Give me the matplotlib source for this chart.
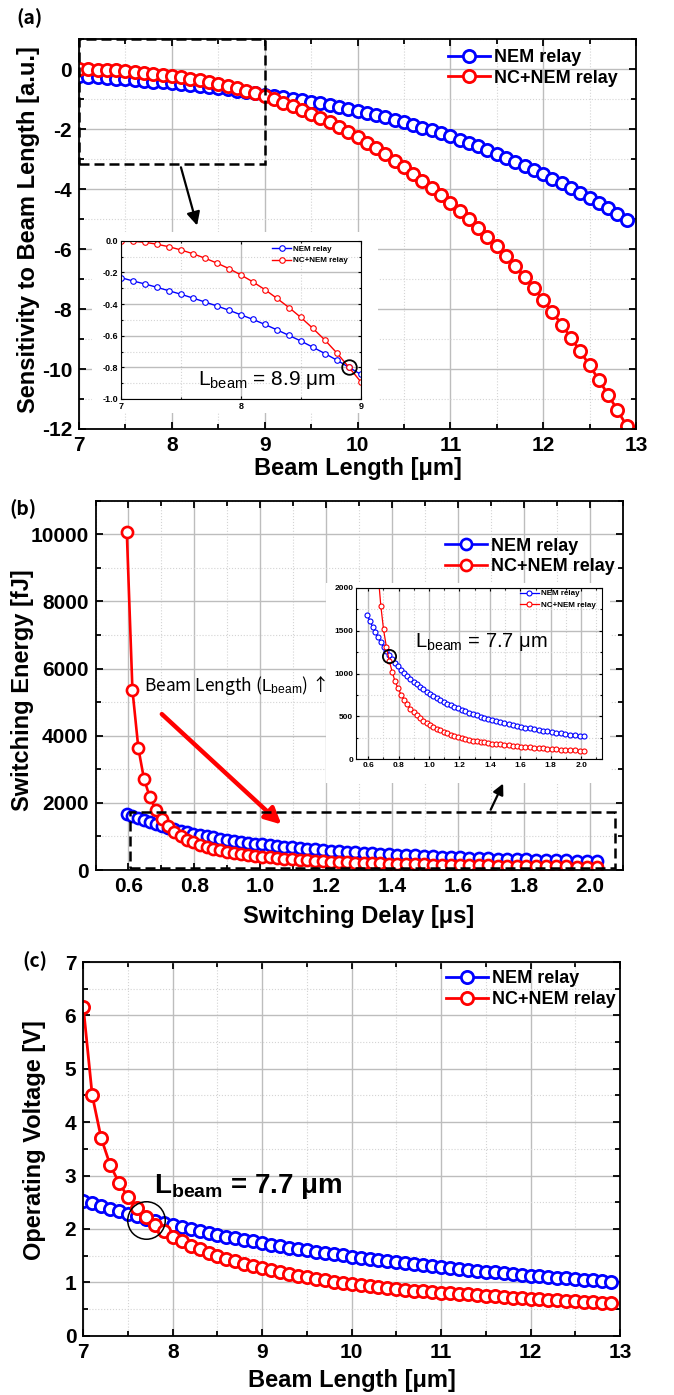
import matplotlib
matplotlib.use('Agg')
import matplotlib.pyplot as plt
from matplotlib.ticker import MultipleLocator, FormatStrFormatter
from matplotlib.patches import Rectangle

plt.rcParams['font.family'] = ['Liberation Sans', 'DejaVu Sans']
plt.rcParams['font.weight'] = 'bold'
plt.rcParams['axes.unicode_minus'] = False
plt.rcParams['mathtext.fontset'] = 'custom'
plt.rcParams['mathtext.rm'] = 'Liberation Sans:regular'
plt.rcParams['mathtext.it'] = 'Liberation Sans:regular'
plt.rcParams['mathtext.bf'] = 'Liberation Sans:bold'

# ---------------- data ----------------
beam_length = [7.0, 7.1, 7.2, 7.3, 7.4, 7.5, 7.6, 7.7, 7.8, 7.9,
               8.0, 8.1, 8.2, 8.3, 8.4, 8.5, 8.6, 8.7, 8.8, 8.9,
               9.0, 9.1, 9.2, 9.3, 9.4, 9.5, 9.6, 9.7, 9.8, 9.9,
               10.0, 10.1, 10.2, 10.3, 10.4, 10.5, 10.6, 10.7, 10.8, 10.9,
               11.0, 11.1, 11.2, 11.3, 11.4, 11.5, 11.6, 11.7, 11.8, 11.9,
               12.0, 12.1, 12.2, 12.3, 12.4, 12.5, 12.6, 12.7, 12.8, 12.9]

sens_nem = [-0.233, -0.254, -0.273, -0.294, -0.316, -0.338, -0.362, -0.387, -0.412, -0.439,
            -0.468, -0.497, -0.529, -0.563, -0.598, -0.634, -0.673, -0.713, -0.755, -0.800,
            -0.845, -0.890, -0.936, -0.983, -1.031, -1.080, -1.134, -1.190, -1.249, -1.312,
            -1.378, -1.449, -1.522, -1.599, -1.680, -1.764, -1.852, -1.943, -2.038, -2.137,
            -2.240, -2.347, -2.458, -2.573, -2.693, -2.817, -2.945, -3.077, -3.214, -3.355,
            -3.500, -3.650, -3.800, -3.960, -4.120, -4.290, -4.460, -4.640, -4.830, -5.020]

sens_nc = [-0.004, -0.004, -0.010, -0.022, -0.038, -0.058, -0.082, -0.110, -0.141, -0.176,
           -0.216, -0.260, -0.309, -0.364, -0.422, -0.485, -0.554, -0.628, -0.710, -0.800,
           -0.893, -1.000, -1.110, -1.230, -1.350, -1.480, -1.620, -1.770, -1.930, -2.090,
           -2.260, -2.450, -2.640, -2.840, -3.050, -3.270, -3.500, -3.730, -3.970, -4.210,
           -4.460, -4.730, -5.010, -5.290, -5.590, -5.900, -6.230, -6.570, -6.930, -7.300,
           -7.690, -8.100, -8.520, -8.960, -9.410, -9.880, -10.360, -10.860, -11.370, -11.900]

delay_us = [0.595, 0.612, 0.630, 0.647, 0.665, 0.683, 0.701, 0.720, 0.739, 0.758,
            0.777, 0.797, 0.816, 0.837, 0.857, 0.877, 0.898, 0.919, 0.940, 0.962,
            0.984, 1.006, 1.028, 1.050, 1.073, 1.096, 1.119, 1.143, 1.166, 1.190,
            1.214, 1.239, 1.263, 1.288, 1.313, 1.339, 1.364, 1.390, 1.416, 1.443,
            1.469, 1.496, 1.523, 1.551, 1.578, 1.606, 1.634, 1.662, 1.691, 1.720,
            1.749, 1.778, 1.807, 1.837, 1.867, 1.897, 1.928, 1.959, 1.990, 2.021]

energy_nem = [1677, 1608, 1541, 1479, 1420, 1363, 1310, 1260, 1212, 1166,
              1124, 1083, 1043, 1007, 971, 937, 904, 874, 844, 816,
              789, 763, 739, 715, 693, 671, 650, 630, 611, 593,
              575, 559, 542, 526, 511, 497, 483, 470, 457, 444,
              432, 421, 409, 399, 388, 378, 369, 359, 350, 341,
              333, 325, 317, 309, 302, 294, 288, 281, 274, 268]

energy_nc = [10056, 5366, 3628, 2714, 2168, 1791, 1514, 1306, 1146, 1018,
             907, 826, 755, 693, 639, 591, 550, 512, 479, 449,
             422, 398, 376, 355, 337, 319, 302, 287, 272, 259,
             247, 236, 227, 218, 210, 203, 196, 190, 184, 178,
             173, 168, 163, 158, 153, 148, 144, 140, 135, 131,
             128, 124, 120, 117, 114, 110, 107, 104, 101, 98]

volt_nem = [2.530, 2.477, 2.425, 2.376, 2.328, 2.281, 2.236, 2.193, 2.151, 2.110,
            2.071, 2.033, 1.995, 1.960, 1.925, 1.891, 1.858, 1.826, 1.795, 1.765,
            1.735, 1.707, 1.679, 1.652, 1.626, 1.600, 1.575, 1.551, 1.527, 1.504,
            1.482, 1.460, 1.438, 1.417, 1.397, 1.377, 1.358, 1.339, 1.320, 1.302,
            1.284, 1.267, 1.250, 1.234, 1.217, 1.201, 1.186, 1.171, 1.156, 1.141,
            1.127, 1.113, 1.100, 1.086, 1.073, 1.060, 1.048, 1.035, 1.023, 1.011]

volt_nc = [6.16, 4.50, 3.70, 3.20, 2.86, 2.60, 2.39, 2.22, 2.08, 1.96,
           1.850, 1.765, 1.688, 1.617, 1.553, 1.494, 1.440, 1.390, 1.344, 1.301,
           1.262, 1.226, 1.191, 1.158, 1.127, 1.097, 1.068, 1.040, 1.014, 0.989,
           0.965, 0.944, 0.925, 0.907, 0.891, 0.875, 0.860, 0.846, 0.833, 0.820,
           0.808, 0.796, 0.784, 0.772, 0.760, 0.748, 0.737, 0.726, 0.715, 0.704,
           0.694, 0.684, 0.674, 0.664, 0.655, 0.644, 0.634, 0.625, 0.616, 0.607]

series_names = ['NEM relay', 'NC+NEM relay']

# ---------------- styling helpers ----------------
BLUE = '#0000ff'
RED = '#ff0000'
W, H = 674.0, 1395.0
KR = ['Noto Sans CJK KR', 'DejaVu Sans']

fig = plt.figure(figsize=(6.74, 13.95), dpi=100)


def px_rect(l, t, r, b):
    return [l / W, 1 - b / H, (r - l) / W, (b - t) / H]


def style(ax, xmaj, xmin, ymaj, ymin, fs=15, lw=1.3, tl=5, pad=5):
    ax.xaxis.set_major_locator(MultipleLocator(xmaj))
    ax.xaxis.set_minor_locator(MultipleLocator(xmin))
    ax.yaxis.set_major_locator(MultipleLocator(ymaj))
    ax.yaxis.set_minor_locator(MultipleLocator(ymin))
    ax.tick_params(which='both', direction='in', top=True, right=True,
                   labelsize=fs, width=lw, pad=pad)
    ax.tick_params(which='major', length=tl)
    ax.tick_params(which='minor', length=tl * 0.7)
    ax.grid(which='major', color='#bdbdbd', lw=1.0, ls='-')
    ax.grid(which='minor', color='#d4d4d4', lw=0.8, ls=':')
    ax.set_axisbelow(True)
    for s in ax.spines.values():
        s.set_linewidth(lw)


def draw_series(ax, x, ys, ms, mew, lw):
    for y, c, name in zip(ys, [BLUE, RED], series_names):
        ax.plot(x, y, '-o', color=c, mfc='white', mec=c, ms=ms, mew=mew,
                lw=lw, label=name)


def big_legend(ax, anchor):
    ax.legend(loc='upper right', bbox_to_anchor=anchor, frameon=False,
              fontsize=13, handlelength=2.3, handletextpad=0.25,
              labelspacing=0.2, borderpad=0, borderaxespad=0)


def small_legend(ax, anchor):
    ax.legend(loc='upper right', bbox_to_anchor=anchor, frameon=False,
              fontsize=5.8, handlelength=2.4, handletextpad=0.2,
              labelspacing=0.5, borderpad=0, borderaxespad=0)


# ================= panel (a) =================
ax_a = fig.add_axes(px_rect(79, 39.3, 636, 429))
style(ax_a, 1, 0.5, 2, 1)
draw_series(ax_a, beam_length, [sens_nem, sens_nc], ms=8.8, mew=2.0, lw=2.0)
ax_a.set_xlim(7, 13)
ax_a.set_ylim(-12, 1)
big_legend(ax_a, (0.968, 0.975))
ax_a.add_patch(Rectangle((7.0, -3.15), 2.0, 4.15, fill=False, ec='black',
                         lw=1.8, ls=(0, (4, 2)), zorder=5, clip_on=False))
ax_a.annotate('', xy=(8.28, -5.3), xytext=(8.09, -3.18),
              arrowprops=dict(arrowstyle='-|>', color='black', lw=1.6,
                              mutation_scale=20))
ax_a.add_patch(Rectangle((92 / W, 1 - 413 / H), (378 - 92) / W, (413 - 232) / H,
                         transform=fig.transFigure, fc='white', ec='none',
                         zorder=1.5))

ax_ai = fig.add_axes(px_rect(120.7, 240.7, 361, 399))
style(ax_ai, 1, 0.5, 0.2, 0.1, fs=6.5, lw=0.8, tl=2.5, pad=2)
ax_ai.yaxis.set_major_formatter(FormatStrFormatter('%.1f'))
draw_series(ax_ai, beam_length, [sens_nem, sens_nc], ms=4, mew=0.8, lw=1.0)
ax_ai.set_xlim(7, 9)
ax_ai.set_ylim(-1.0, 0.0)
small_legend(ax_ai, (0.945, 0.972))
ax_ai.plot([8.9], [-0.80], 'o', mfc='none', mec='black', ms=10.5, mew=1.3,
           clip_on=False)
ax_ai.text(7.64, -0.912, r'$\mathrm{L_{beam}}$ = 8.9 μm', fontsize=15,
           fontweight='normal', va='baseline')

fig.text(29 / W, 1 - 230 / H, 'Sensitivity to Beam Length [a.u.]',
         rotation=90, ha='center', va='center', fontsize=17)
fig.text(357.5 / W, 1 - 469 / H, 'Beam Length [μm]', ha='center',
         va='center', fontsize=17)
fig.text(29 / W, 1 - 18.5 / H, '(a)', ha='center', va='center', fontsize=14,
         family=KR, fontweight='bold')

# ================= panel (b) =================
ax_b = fig.add_axes(px_rect(95.5, 500.7, 623, 870))
style(ax_b, 0.2, 0.1, 2000, 1000)
ax_b.xaxis.set_major_formatter(FormatStrFormatter('%.1f'))
draw_series(ax_b, delay_us, [energy_nem, energy_nc], ms=8.0, mew=1.9, lw=1.9)
ax_b.set_xlim(0.5, 2.1)
ax_b.set_ylim(0, 11000)
big_legend(ax_b, (0.985, 0.900))
ax_b.add_patch(Rectangle((0.605, 50), 1.47, 1670, fill=False, ec='black',
                         lw=1.8, ls=(0, (4, 2)), zorder=5))
ax_b.annotate('', xy=(1.07, 1300), xytext=(0.695, 4700),
              arrowprops=dict(arrowstyle='-|>', color=RED, lw=3.2,
                              mutation_scale=24))
ax_b.annotate('', xy=(1.74, 2650), xytext=(1.695, 1720),
              arrowprops=dict(arrowstyle='-|>', color='black', lw=1.6,
                              mutation_scale=16))
ax_b.text(0.647, 5500, r'Beam Length ($\mathrm{L_{beam}}$) ↑', fontsize=12.5,
          fontweight='medium', va='center', family=KR)
ax_b.add_patch(Rectangle((326 / W, 1 - 783 / H), (610 - 326) / W, (783 - 583) / H,
                         transform=fig.transFigure, fc='white', ec='none',
                         zorder=1.5))

ax_bi = fig.add_axes(px_rect(356, 587.7, 601.7, 759.3))
style(ax_bi, 0.2, 0.1, 500, 250, fs=6, lw=0.8, tl=2.5, pad=2)
ax_bi.xaxis.set_major_formatter(FormatStrFormatter('%.1f'))
draw_series(ax_bi, delay_us, [energy_nem, energy_nc], ms=3.6, mew=0.8, lw=0.9)
ax_bi.set_xlim(0.52, 2.135)
ax_bi.set_ylim(0, 2000)
small_legend(ax_bi, (0.975, 0.988))
ax_bi.plot([0.74], [1205], 'o', mfc='none', mec='black', ms=9.5, mew=1.3)
ax_bi.text(0.905, 1305, r'$\mathrm{L_{beam}}$ = 7.7 μm', fontsize=14.5,
           fontweight='normal', va='baseline')

fig.text(23 / W, 1 - 690 / H, 'Switching Energy [fJ]', rotation=90,
         ha='center', va='center', fontsize=17)
fig.text(359 / W, 1 - 916 / H, 'Switching Delay [μs]', ha='center',
         va='center', fontsize=17)
fig.text(23 / W, 1 - 509 / H, '(b)', ha='center', va='center', fontsize=14,
         family=KR, fontweight='bold')

# ================= panel (c) =================
ax_c = fig.add_axes(px_rect(83.3, 962, 620, 1335.7))
style(ax_c, 1, 0.5, 1, 0.5)
draw_series(ax_c, beam_length, [volt_nem, volt_nc], ms=8.8, mew=2.0, lw=2.0)
ax_c.set_xlim(7, 13)
ax_c.set_ylim(0, 7)
big_legend(ax_c, (0.993, 0.978))
ax_c.plot([7.696], [2.17], 'o', mfc='none', mec='black', ms=27, mew=1.1,
          zorder=6)
ax_c.text(7.79, 2.667, r'$\mathbf{L_{beam}}$ = 7.7 μm', fontsize=20,
          fontweight='bold', va='baseline')

fig.text(35 / W, 1 - 1140 / H, 'Operating Voltage [V]', rotation=90,
         ha='center', va='center', fontsize=17)
fig.text(352 / W, 1 - 1381 / H, 'Beam Length [μm]', ha='center',
         va='center', fontsize=17)
fig.text(35 / W, 1 - 961 / H, '(c)', ha='center', va='center', fontsize=14,
         family=KR, fontweight='bold')

fig.savefig('out.png', dpi=100, facecolor='white')
